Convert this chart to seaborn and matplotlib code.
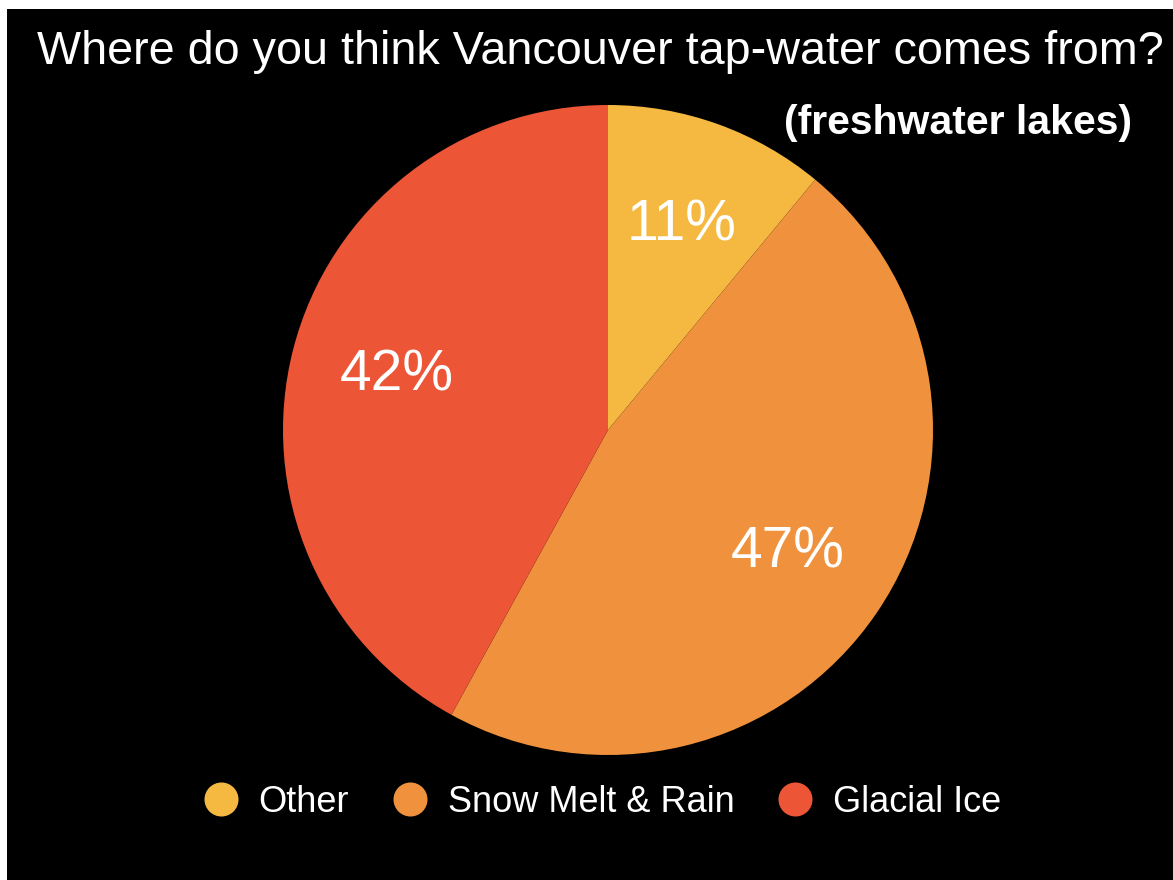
import matplotlib
matplotlib.use("Agg")
import matplotlib.pyplot as plt
from matplotlib.lines import Line2D
from matplotlib.patches import Rectangle
import seaborn as sns

categories = ["Other", "Snow Melt & Rain", "Glacial Ice"]
shares = [11, 47, 42]
colors = ["#F5B942", "#F0923D", "#EC5535"]
title = "Where do you think Vancouver tap-water comes from?"
subtitle = "(freshwater lakes)"

sns.set_theme(style="dark", rc={"axes.facecolor": "black", "figure.facecolor": "white"})
plt.rcParams["font.family"] = ["Liberation Sans", "DejaVu Sans"]

W, H = 1173, 880
fig = plt.figure(figsize=(W / 100, H / 100), dpi=100)

# black canvas with a thin white margin on the top and left
fig.patches.append(Rectangle((7 / W, 0), 1 - 7 / W, 1 - 9 / H,
                             transform=fig.transFigure, facecolor="black",
                             edgecolor="none", zorder=-10))

cx, cy, r = 608, 430, 325
ax = fig.add_axes([(cx - r) / W, (H - cy - r) / H, 2 * r / W, 2 * r / H])
ax.set_facecolor("none")
ax.set_zorder(1)

wedges, texts, autotexts = ax.pie(
    shares, colors=colors, startangle=90, counterclock=False,
    autopct=lambda p: f"{p:.0f}%", pctdistance=0.67, radius=1,
    wedgeprops=dict(linewidth=0),
    textprops=dict(color="white", fontsize=41),
)
ax.set_xlim(-1, 1)
ax.set_ylim(-1, 1)
ax.set_aspect("equal")
ax.axis("off")

fig.text(600 / W, 1 - 52 / H, title, color="white", fontsize=33.7,
         ha="center", va="center")
fig.text(1132 / W, 1 - 123 / H, subtitle, color="white", fontsize=29.5,
         fontweight="bold", ha="right", va="center")

handles = [Line2D([0], [0], marker="o", linestyle="none", markersize=24.5,
                  markerfacecolor=c, markeredgewidth=0) for c in colors]
leg = fig.legend(handles, categories, loc="center", ncol=3,
                 bbox_to_anchor=(602 / W, 1 - 802 / H), frameon=False,
                 fontsize=26, handlelength=1.0, handletextpad=0.55,
                 columnspacing=1.18, labelcolor="white")

fig.savefig("out.png", dpi=100, facecolor="white")
